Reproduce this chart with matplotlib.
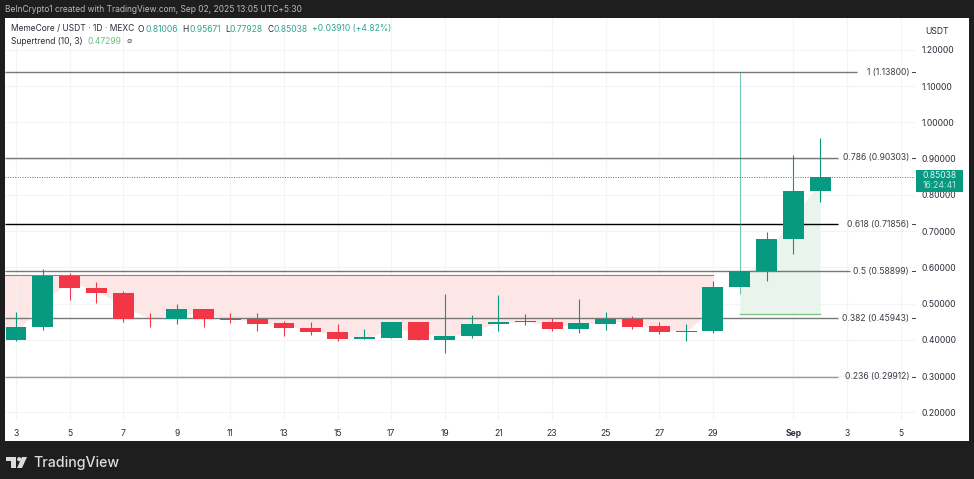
"""
    MemeCore / USDT daily candles with fib levels and supertrend
"""

import matplotlib
matplotlib.use('Agg')
import matplotlib.pyplot as plt
from matplotlib.patches import Rectangle, Polygon, Circle
import numpy as np

plt.rcParams['font.family'] = ['Inter', 'DejaVu Sans']

opens = [0.400, 0.4366, 0.5766, 0.544, 0.529, 0.459, 0.459, 0.4846, 0.459, 0.459, 0.446,
         0.433, 0.423, 0.4036, 0.4063, 0.4505, 0.399, 0.411, 0.444, 0.449, 0.449,
         0.431, 0.445, 0.458, 0.4386, 0.4215, 0.4247, 0.547, 0.589, 0.679, 0.81006]
closes = [0.4364, 0.5766, 0.544, 0.529, 0.459, 0.457, 0.4846, 0.459, 0.456, 0.445, 0.432,
          0.422, 0.4036, 0.4075, 0.4505, 0.400, 0.411, 0.444, 0.449, 0.4525, 0.431,
          0.447, 0.459, 0.4366, 0.421, 0.4255, 0.547, 0.589, 0.679, 0.811, 0.85038]
highs = [0.478, 0.595, 0.5856, 0.561, 0.536, 0.475, 0.499, 0.4846, 0.475, 0.4736, 0.452,
         0.45, 0.444, 0.43, 0.4505, 0.4505, 0.527, 0.468, 0.525, 0.472, 0.4615,
         0.513, 0.476, 0.466, 0.4497, 0.445, 0.5636, 1.138, 0.697, 0.911, 0.95671]
lows = [0.397, 0.4276, 0.510, 0.501, 0.449, 0.437, 0.444, 0.435, 0.446, 0.4257, 0.412,
        0.4146, 0.398, 0.4036, 0.4063, 0.400, 0.363, 0.4047, 0.424, 0.441, 0.425,
        0.419, 0.428, 0.429, 0.4157, 0.397, 0.42, 0.527, 0.5636, 0.636, 0.77928]

fib_ratios = ['1', '0.786', '0.618', '0.5', '0.382', '0.236']
fib_prices = [1.13800, 0.90303, 0.71856, 0.58899, 0.45943, 0.29912]
fib_colors = ['#787878', '#787878', '#000000', '#787878', '#787878', '#9a9a9a']
fib_line_ends = [857, 838, 838, 850, 838, 838]

x_tick_pos = [0, 2, 4, 6, 8, 10, 12, 14, 16, 18, 20, 22, 24, 26, 29, 31, 33]
x_tick_labels = ['3', '5', '7', '9', '11', '13', '15', '17', '19', '21', '23', '25', '27', '29', 'Sep', '3', '5']
y_ticks = [0.2, 0.3, 0.4, 0.5, 0.6, 0.7, 0.8, 0.9, 1.0, 1.1, 1.2]

down_stop = 0.578
up_stop = 0.47299
last_price = 0.85038
countdown = '16:24:41'

GREEN = '#089981'
RED = '#f23645'
W, H = 974, 479
FS = 6.2

fig = plt.figure(figsize=(W / 100, H / 100), dpi=100, facecolor='#1e1e1e')

# white panel behind everything
fig.add_artist(Rectangle((5 / W, 1 - 441 / H), 964 / W, 423 / H, transform=fig.transFigure,
                         facecolor='white', edgecolor='none', zorder=-5))

ax = fig.add_axes([5 / W, 1 - 420 / H, 910 / W, 402 / H], facecolor='none')
ax.set_xlim(-0.41, 33.54)
ax.set_ylim(0.1793, 1.288)
for s in ax.spines.values():
    s.set_visible(False)

ax.set_xticks(x_tick_pos)
ax.set_xticklabels(x_tick_labels)
ax.set_yticks(y_ticks)
ax.set_yticklabels(['%.5f' % v for v in y_ticks])
ax.yaxis.tick_right()
ax.tick_params(axis='both', length=0, labelsize=FS, labelcolor='#2a2e39')
ax.tick_params(axis='y', pad=5)
ax.tick_params(axis='x', pad=6.5)
ax.get_xticklabels()[14].set_fontweight('bold')
ax.grid(True, color='#f3f4f6', linewidth=0.8)
ax.set_axisbelow(True)

xs = np.arange(len(opens))
o = np.array(opens)
c = np.array(closes)
mids = (o + c) / 2

# Supertrend zones
down = xs <= 26
up = xs >= 27
ax.fill_between(xs[down], down_stop, mids[down], color='#fde6e6', lw=0, zorder=1)
ax.fill_between([-0.41, 0], down_stop, mids[0], color='#fde6e6', lw=0, zorder=1)
ax.fill_between(xs[up], up_stop, mids[up], color='#e9f5ec', lw=0, zorder=1)
ax.plot([-0.41, 26], [down_stop, down_stop], color='#d9606b', lw=0.8, zorder=2)
ax.plot([xs[up][0], xs[up][-1]], [up_stop, up_stop], color='#7cc48a', lw=1, zorder=2)

# Fib levels
trans = ax.get_yaxis_transform()
for ratio, price, col, end in zip(fib_ratios, fib_prices, fib_colors, fib_line_ends):
    ax.plot([0, (end - 5) / 910], [price, price], transform=trans, color=col,
            lw=1.0, zorder=3, solid_capstyle='butt')
    ax.text(904 / 910, price, '%s (%.5f)' % (ratio, price), transform=trans,
            ha='right', va='center', fontsize=FS, color='#3c3f48', zorder=6)
    ax.plot([907 / 910, 910 / 910], [price, price], transform=trans, color='#3c3f48',
            lw=0.7, zorder=6, clip_on=False)

# Last price
ax.axhline(last_price, color=GREEN, lw=0.7, ls=(0, (1, 1.5)), zorder=3)

# Candles
for i in xs:
    col = GREEN if closes[i] >= opens[i] else RED
    wick_alpha = 0.55 if highs[i] - lows[i] > 0.5 else 1
    ax.plot([i, i], [lows[i], highs[i]], color=col, lw=0.8, alpha=wick_alpha, zorder=4,
            solid_capstyle='butt')
    ax.bar(i, abs(closes[i] - opens[i]), bottom=min(opens[i], closes[i]), width=0.78,
           color=col, linewidth=0, zorder=5)

# Price tag
fig.add_artist(Rectangle((916 / W, 1 - 192 / H), 47 / W, 22 / H, transform=fig.transFigure,
                         facecolor=GREEN, edgecolor='none', zorder=5))
fig.text(939.5 / W, 1 - 176 / H, '%.5f' % last_price, color='#e6f5f1', fontsize=FS,
         ha='center', va='center', zorder=6)
fig.text(939.5 / W, 1 - 186 / H, countdown, color='#bfe6dc', fontsize=FS,
         ha='center', va='center', zorder=6)
fig.text(937 / W, 1 - 31 / H, 'USDT', color='#2a2e39', fontsize=FS, ha='center', va='center')

# Header
fig.text(5 / W, 1 - 10 / H, 'BeInCrypto1 created with TradingView.com, Sep 02, 2025 13:05 UTC+5:30',
         color='#b8b8b8', fontsize=6.05, ha='left', va='center')
legend_dark = '#2a2e39'
legend_green = '#2fa58e'
legend_parts = [(11, 'MemeCore / USDT · 1D · MEXC', legend_dark), (138, 'O', legend_dark),
                (145, '0.81006', legend_green), (182, 'H', legend_dark),
                (189, '0.95671', legend_green), (225, 'L', legend_dark),
                (230, '0.77928', legend_green), (268, 'C', legend_dark),
                (274, '0.85038', legend_green), (312, '+0.03910 (+4.82%)', legend_green)]
for px, txt, col in legend_parts:
    fig.text(px / W, 1 - 29 / H, txt, color=col, fontsize=6.1, ha='left', va='center')
fig.text(11 / W, 1 - 41 / H, 'Supertrend (10, 3)', color=legend_dark, fontsize=6.1, ha='left', va='center')
fig.text(88 / W, 1 - 41 / H, '0.47299', color='#6cbf7c', fontsize=6.1, ha='left', va='center')
fig.text(127 / W, 1 - 41 / H, '∅', color='#555555', fontsize=5.5, ha='left', va='center')

# TradingView logo, drawn in pixel coordinates
logo_ax = fig.add_axes([0, 0, 1, 1], facecolor='none')
logo_ax.set_xlim(0, W)
logo_ax.set_ylim(H, 0)
logo_ax.axis('off')
logo_color = '#dcdcdc'
logo_ax.add_patch(Polygon([(6, 457), (16, 457), (16, 468), (11, 468), (11, 461), (6, 461)],
                          facecolor=logo_color, edgecolor='none'))
logo_ax.add_patch(Polygon([(22, 457), (27, 457), (22, 468), (17, 468)],
                          facecolor=logo_color, edgecolor='none'))
logo_ax.add_patch(Circle((19.2, 459.2), 2.1, facecolor=logo_color, edgecolor='none'))
fig.text(33 / W, 1 - 462.5 / H, 'TradingView', color=logo_color, fontsize=10.2, fontweight='medium',
         ha='left', va='center')

fig.savefig('out.png', dpi=100, facecolor=fig.get_facecolor())
